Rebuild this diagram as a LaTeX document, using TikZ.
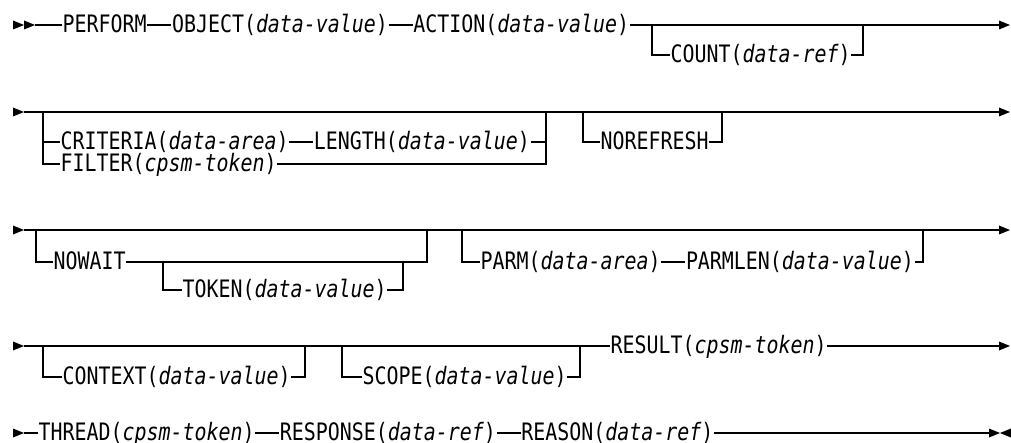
\documentclass[tikz,border=0pt]{standalone}
\usepackage{fontspec}
\newfontfamily\railfont[FakeStretch=0.83]{DejaVu Sans Mono}
\usetikzlibrary{positioning}

\begin{document}
\begin{tikzpicture}[x=0.5pt, y=-0.5pt, line width=0.7pt]
    % Define styles
    \tikzstyle{kw} = [inner sep=0pt, anchor=west, text height=9.8pt, text depth=2.6pt, font=\railfont\fontsize{12}{14}\selectfont]
    \tikzstyle{rail} = [draw, line width=0.7pt]
    \tikzset{railtip/.pic={\fill (0,-4.5) -- (11,0) -- (0,4.5) -- cycle;}}
    \useasboundingbox (0,0) rectangle (1011,443);

    % Row 1
    \node [kw] (perform) at (62,25) {PERFORM};
    \node [kw, right=12pt of perform] (object) {OBJECT(\textit{data-value})};
    \node [kw, right=12pt of object] (action) {ACTION(\textit{data-value})};
    \node [kw] (count) at (670,55) {COUNT(\textit{data-ref})};
    \coordinate (s1) at (35,25);
    \coordinate (e1) at (999,25);
    \coordinate (b1a) at (652,25);
    \coordinate (b1b) at (863,25);

    % Row 2
    \node [kw] (criteria) at (60,142) {CRITERIA(\textit{data-area})};
    \node [kw, right=12pt of criteria] (length) {LENGTH(\textit{data-value})};
    \node [kw] (filter) at (60,164) {FILTER(\textit{cpsm-token})};
    \node [kw] (norefresh) at (600,142) {NOREFRESH};
    \coordinate (s2) at (24,112);
    \coordinate (e2) at (999,112);
    \coordinate (b2a) at (43,112);
    \coordinate (b2b) at (546,112);
    \coordinate (b2c) at (583,112);
    \coordinate (b2d) at (722,112);

    % Row 3
    \node [kw] (nowait) at (53,262) {NOWAIT};
    \node [kw] (token) at (182,290) {TOKEN(\textit{data-value})};
    \node [kw] (parm) at (480,262) {PARM(\textit{data-area})};
    \node [kw, right=12pt of parm] (parmlen) {PARMLEN(\textit{data-value})};
    \coordinate (s3) at (24,230);
    \coordinate (e3) at (999,230);
    \coordinate (b3a) at (36,230);
    \coordinate (b3b) at (427,230);
    \coordinate (b3c) at (163,262);
    \coordinate (b3d) at (403,262);
    \coordinate (b3e) at (462,230);
    \coordinate (b3f) at (923,230);

    % Row 4
    \node [kw] (context) at (62,377) {CONTEXT(\textit{data-value})};
    \node [kw] (scope) at (362,377) {SCOPE(\textit{data-value})};
    \node [kw] (result) at (610,346) {RESULT(\textit{cpsm-token})};
    \coordinate (s4) at (24,346);
    \coordinate (e4) at (999,346);
    \coordinate (b4a) at (43,346);
    \coordinate (b4b) at (305,346);
    \coordinate (b4c) at (342,346);
    \coordinate (b4d) at (580,346);

    % Row 5
    \node [kw] (thread) at (38,433) {THREAD(\textit{cpsm-token})};
    \node [kw, right=12pt of thread] (response) {RESPONSE(\textit{data-ref})};
    \node [kw, right=12pt of response] (reason) {REASON(\textit{data-ref})};
    \coordinate (s5) at (24,433);
    \coordinate (e5) at (989,433);

    % Markers
    \pic at (13,25) {railtip};
    \pic at (24,25) {railtip};
    \pic at (13,112) {railtip};
    \pic at (13,230) {railtip};
    \pic at (13,346) {railtip};
    \pic at (13,433) {railtip};
    \pic at (e1) {railtip};
    \pic at (e2) {railtip};
    \pic at (e3) {railtip};
    \pic at (e4) {railtip};
    \pic at (e5) {railtip};
    \pic[xscale=-1] at (1011,433) {railtip};

    % Connections
    \draw[rail] (s1) -- (perform);
    \draw[rail] (perform) -- (object);
    \draw[rail] (object) -- (action);
    \draw[rail] (action) -- (e1);
    \draw[rail] (b1a) |- (count.west);
    \draw[rail] (count.east) -| (b1b);

    \draw[rail] (s2) -- (e2);
    \draw[rail] (b2a) |- (criteria.west);
    \draw[rail] (b2a) |- (filter.west);
    \draw[rail] (criteria) -- (length);
    \draw[rail] (length.east) -| (b2b);
    \draw[rail] (filter.east) -| (b2b);
    \draw[rail] (b2c) |- (norefresh.west);
    \draw[rail] (norefresh.east) -| (b2d);

    \draw[rail] (s3) -- (e3);
    \draw[rail] (b3a) |- (nowait.west);
    \draw[rail] (nowait.east) -| (b3b);
    \draw[rail] (b3c) |- (token.west);
    \draw[rail] (token.east) -| (b3d);
    \draw[rail] (b3e) |- (parm.west);
    \draw[rail] (parm) -- (parmlen);
    \draw[rail] (parmlen.east) -| (b3f);

    \draw[rail] (s4) -- (result.west);
    \draw[rail] (result.east) -- (e4);
    \draw[rail] (b4a) |- (context.west);
    \draw[rail] (context.east) -| (b4b);
    \draw[rail] (b4c) |- (scope.west);
    \draw[rail] (scope.east) -| (b4d);

    \draw[rail] (s5) -- (thread);
    \draw[rail] (thread) -- (response);
    \draw[rail] (response) -- (reason);
    \draw[rail] (reason) -- (e5);
\end{tikzpicture}
\end{document}
